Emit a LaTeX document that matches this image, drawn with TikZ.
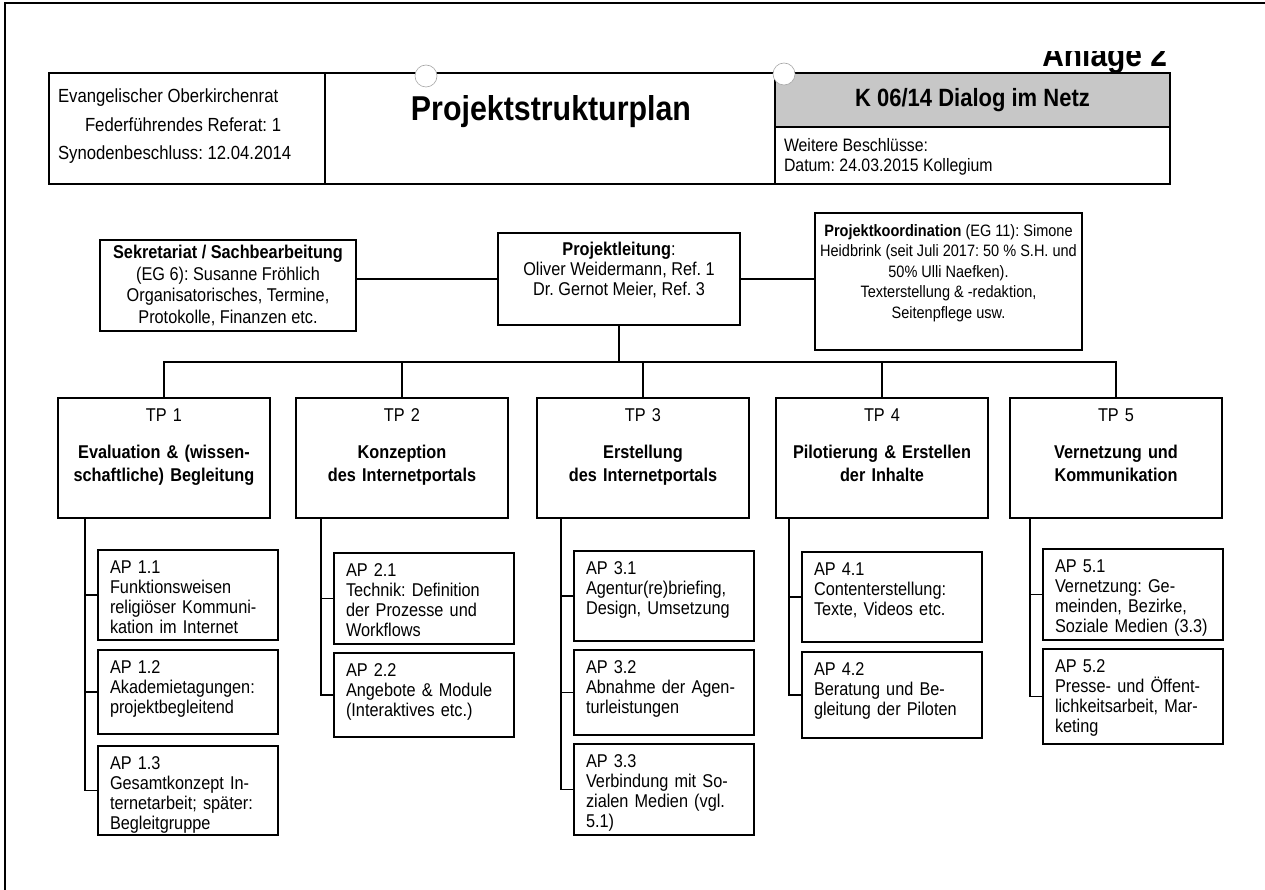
\documentclass[tikz,border=0pt]{standalone}
\usepackage{fontspec}
\setmainfont{Liberation Sans}[FakeStretch=0.88]
\usetikzlibrary{calc}
\newcommand{\fsz}[2]{\fontsize{#1}{#2}\selectfont}
\frenchspacing

\begin{document}
\begin{tikzpicture}[x=1pt, y=-1pt, line width=1.1pt,
    every node/.style={inner sep=0pt, outer sep=0pt},
    hdrtext/.style={anchor=base west, font=\fsz{19}{20}},
    orgbox/.style={draw, anchor=north west, align=center, font=\fsz{18.5}{21.5}},
    tpbox/.style={draw, anchor=north west, align=center, text width=204pt, inner xsep=4pt,
                  font=\fsz{18.5}{23}, text height=23.5pt, text depth=96.5pt},
    apbox/.style={draw, anchor=north west, align=left, text width=156pt, inner xsep=12pt,
                  font=\fsz{18.5}{20}, text height=23.5pt}]
  \useasboundingbox (0,0) rectangle (1265,890);
  % edge of the scanned page
  \draw[line width=1.6pt] (5,890) -- (5,3) -- (1265,3);

  % header
  \node[draw, anchor=north west, minimum width=276pt, minimum height=111pt] (hleft) at (49,73) {};
  \node[draw, anchor=north west, minimum width=450pt, minimum height=111pt] (hmid) at (hleft.north east) {};
  \node[draw, fill=black!22, anchor=north west, minimum width=395pt, minimum height=54pt,
        font=\bfseries\fsz{25}{26}] (hproj) at (hmid.north east) {K 06/14 Dialog im Netz};
  \node[draw, anchor=north west, minimum width=395pt, minimum height=57pt] (hdec) at (hproj.south west) {};
  \node[hdrtext] (org) at (58,103) {Evangelischer Oberkirchenrat};
  \node[hdrtext] (ref) at (85,132) {Federführendes Referat: 1};
  \node[hdrtext] (syn) at (58,160) {Synodenbeschluss: 12.04.2014};
  \node[anchor=base, font=\bfseries\fsz{34.5}{36}] (title) at (551,121) {Projektstrukturplan};
  \node[hdrtext, font=\fsz{18}{20}] (weit) at (784,152) {Weitere Beschlüsse:};
  \node[hdrtext, font=\fsz{18}{20}] (dat) at (784,172) {Datum: 24.03.2015 Kollegium};
  % punch holes
  \foreach \hx/\hy in {426/76, 784/74}
    \draw[line width=0.6pt, draw=black!35, fill=white] (\hx,\hy) circle (11pt);
  % Anlage 2, top cut off in the scan
  \begin{scope}
    \clip (1000,52) rectangle (1200,80);
    \node[anchor=base east, font=\bfseries\fsz{34}{36}] (anl) at (1167,67) {Anlage 2};
  \end{scope}

  % project management
  \node[orgbox, minimum width=256pt, minimum height=91pt] (sek) at (100,240)
    {\textbf{Sekretariat / Sachbearbeitung}\\(EG 6): Susanne Fröhlich\\Organisatorisches, Termine,\\Protokolle, Finanzen etc.};
  \node[orgbox, minimum width=242pt, minimum height=92pt, font=\fsz{18.5}{20}] (pl) at (498,233)
    {\textbf{Projektleitung}:\\Oliver Weidermann, Ref. 1\\Dr. Gernot Meier, Ref. 3\\\mbox{}};
  \node[orgbox, minimum width=267pt, minimum height=137pt, font=\fsz{16.5}{20.5}] (pk) at (815,213)
    {\textbf{Projektkoordination} (EG 11): Simone\\Heidbrink (seit Juli 2017: 50 \% S.H. und\\50\% Ulli Naefken).\\Texterstellung \& -redaktion,\\Seitenpflege usw.\\\mbox{}};
  \draw (pl.west) -- (pl.west -| sek.east);
  \draw (pl.east) -- (pl.east -| pk.west);

  % sub projects
  \foreach \nm/\px/\tp/\ttl in {tp1/58/1/{Evaluation \& (wissen-\\schaftliche) Begleitung},
      tp2/296/2/{Konzeption\\des Internetportals}, tp3/537/3/{Erstellung\\des Internetportals},
      tp4/776/4/{Pilotierung \& Erstellen\\der Inhalte}, tp5/1010/5/{Vernetzung und\\Kommunikation}}
    \node[tpbox] (\nm) at (\px,398) {TP \tp\\[14pt]\bfseries \ttl};
  \draw (pl.south) -- ++(0,37) coordinate (bus);
  \foreach \t in {tp1,tp2,tp3,tp4,tp5}
    \draw (bus) -| (\t.north);

  % work packages
  \foreach \nm/\px/\py/\ph/\txt in {
      ap11/98/550/90/{AP 1.1\\Funktionsweisen\\religiöser Kommuni-\\kation im Internet},
      ap12/98/650/84/{AP 1.2\\Akademietagungen:\\projektbegleitend},
      ap13/98/746/89/{AP 1.3\\Gesamtkonzept In-\\ternetarbeit; später:\\Begleitgruppe},
      ap21/334/553/91/{AP 2.1\\Technik: Definition\\der Prozesse und\\Workflows},
      ap22/334/653/84/{AP 2.2\\Angebote \& Module\\(Interaktives etc.)},
      ap31/574/551/90/{AP 3.1\\Agentur(re)briefing,\\Design, Umsetzung},
      ap32/574/650/85/{AP 3.2\\Abnahme der Agen-\\turleistungen},
      ap33/574/744/91/{AP 3.3\\Verbindung mit So-\\zialen Medien (vgl.\\5.1)},
      ap41/802/552/90/{AP 4.1\\Contenterstellung:\\Texte, Videos etc.},
      ap42/802/652/86/{AP 4.2\\Beratung und Be-\\gleitung der Piloten},
      ap51/1043/549/91/{AP 5.1\\Vernetzung: Ge-\\meinden, Bezirke,\\Soziale Medien (3.3)},
      ap52/1043/649/95/{AP 5.2\\Presse- und Öffent-\\lichkeitsarbeit, Mar-\\keting}}{
    \pgfmathsetmacro\apdepth{\ph-23.5}
    \node[apbox, text depth=\apdepth pt] (\nm) at (\px,\py) {\txt};
  }
  \foreach \t/\a in {tp1/ap11, tp2/ap21, tp3/ap31, tp4/ap41, tp5/ap51}
    \coordinate (j\t) at ($(\t.south -| \a.west)+(-13,0)$);
  \foreach \t/\a in {tp1/ap11, tp1/ap12, tp1/ap13, tp2/ap21, tp2/ap22, tp3/ap31, tp3/ap32,
      tp3/ap33, tp4/ap41, tp4/ap42, tp5/ap51, tp5/ap52}
    \draw (j\t) |- (\a.west);
\end{tikzpicture}
\end{document}
